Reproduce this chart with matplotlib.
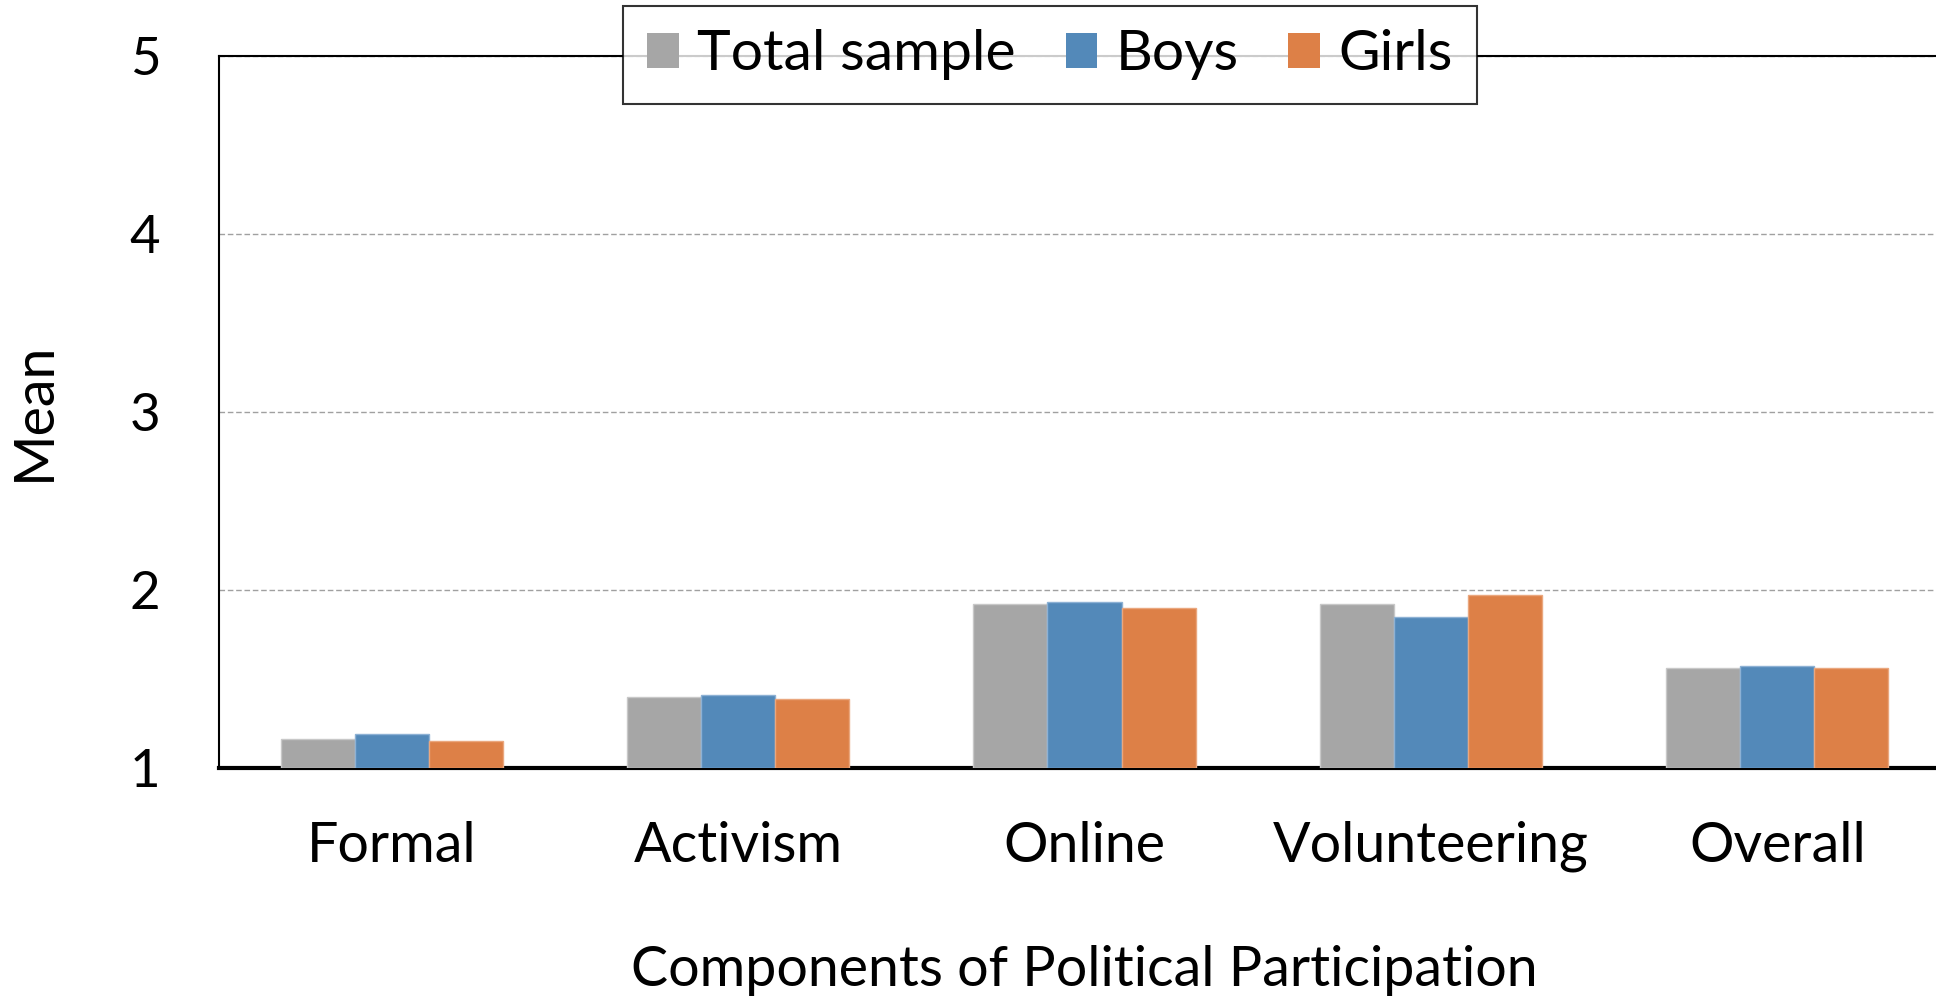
import matplotlib
matplotlib.use("Agg")
import matplotlib.pyplot as plt
import numpy as np

categories = ["Formal", "Activism", "Online", "Volunteering", "Overall"]
series_names = ["Total sample", "Boys", "Girls"]
total_sample = [1.165, 1.40, 1.92, 1.92, 1.56]
boys = [1.19, 1.41, 1.93, 1.85, 1.57]
girls = [1.15, 1.39, 1.90, 1.97, 1.56]
y_ticks = [1, 2, 3, 4, 5]

colors = ["#A6A6A6", "#5389B9", "#DD8047"]
edge_colors = ["#C8C8C8", "#8DB1D4", "#EAA77E"]

plt.rcParams["font.family"] = ["Lato", "DejaVu Sans"]

fig = plt.figure(figsize=(19.36, 10.05), dpi=100)
# axes extends slightly past the right edge of the figure
ax = fig.add_axes([218.5 / 1936, 1 - 768 / 1005, 1732 / 1936, (768 - 55.6) / 1005])

x = np.arange(len(categories))
width = 0.214
for i, (vals, c, ec, name) in enumerate(zip([total_sample, boys, girls], colors, edge_colors, series_names)):
    ax.bar(x + (i - 1) * width, np.array(vals) - 1, width, bottom=1, color=c,
           edgecolor=ec, linewidth=1.0, label=name, zorder=3)

ax.set_xlim(-0.5, len(categories) - 0.5)
ax.set_ylim(1, 5)
ax.set_yticks(y_ticks)
ax.set_yticklabels([str(t) for t in y_ticks])
ax.set_xticks(x)
ax.set_xticklabels(categories)
ax.tick_params(axis="y", length=0, labelsize=38, pad=53)
ax.tick_params(axis="x", length=0, labelsize=40, pad=38)
for lbl in ax.get_yticklabels():
    lbl.set_horizontalalignment("center")

ax.yaxis.grid(True, linestyle=(0, (4, 2)), color="#A0A0A0", linewidth=1.0, zorder=0)
ax.set_axisbelow(True)

for side in ["top", "left", "right"]:
    ax.spines[side].set_color("black")
    ax.spines[side].set_linewidth(1.5)
ax.spines["bottom"].set_linewidth(3)
ax.spines["bottom"].set_color("black")

ax.set_ylabel("Mean", fontsize=40, labelpad=50)
ax.set_xlabel("Components of Political Participation", fontsize=40, labelpad=52)

leg = ax.legend(loc="center", bbox_to_anchor=(1050 / 1936, 1 - 55 / 1005),
                bbox_transform=fig.transFigure, ncol=3, frameon=True, fancybox=False,
                fontsize=41, handlelength=0.55, handleheight=0.55, handletextpad=0.33,
                columnspacing=0.87, borderpad=0.42, borderaxespad=0)
leg.get_frame().set_edgecolor("black")
leg.get_frame().set_linewidth(1.5)
leg.get_frame().set_facecolor("white")
leg.set_zorder(10)
for h in leg.legend_handles:
    h.set_edgecolor("none")

fig.savefig("out.png", dpi=100)
